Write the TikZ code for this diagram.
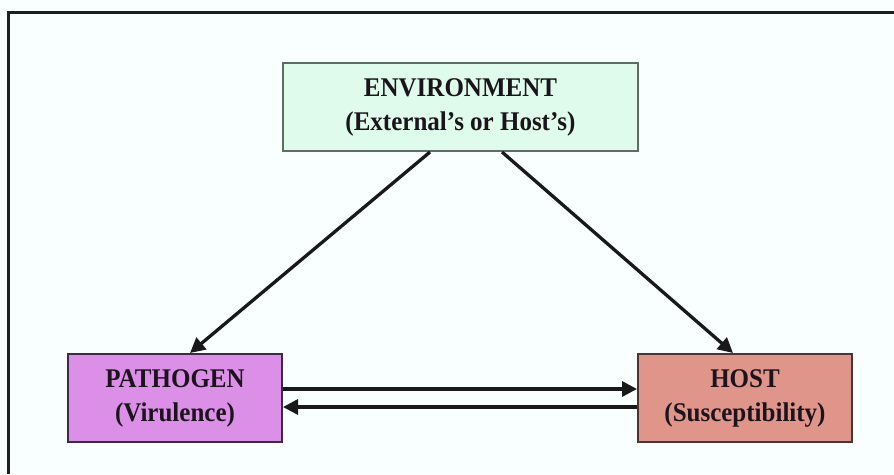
\documentclass[tikz,border=0pt]{standalone}
\usepackage{fontspec}
\setmainfont{Liberation Serif}
\usetikzlibrary{arrows.meta}
\definecolor{bgc}{HTML}{F9FEFE}
\definecolor{envfill}{HTML}{DEFBEB}
\definecolor{envdraw}{HTML}{5C6E63}
\definecolor{patfill}{HTML}{DB8FE6}
\definecolor{patdraw}{HTML}{3C2C42}
\definecolor{hostfill}{HTML}{E0958B}
\definecolor{hostdraw}{HTML}{4A3434}
\definecolor{inktext}{HTML}{1C141C}
\newcommand\twolines[2]{\scalebox{1}[1.08]{\begin{tabular}{@{}c@{}}#1\\#2\end{tabular}}}
\tikzset{
  box/.style={draw, line width=2pt, minimum height=88pt, inner sep=0pt, align=center,
    text=inktext, font=\fontsize{25}{31.5}\selectfont\bfseries},
  conn/.style={line width=3.3pt, -{Triangle[length=15pt,width=15pt]}, color=black!90}
}
\begin{document}
\begin{tikzpicture}[x=1pt,y=-1pt]
\useasboundingbox (0,0) rectangle (894,474);
\fill[bgc] (0,0) rectangle (894,474);
\draw[line width=2.5pt, color=black!88] (8.5,474) -- (8.5,12.5) -- (894,12.5);
\node[box, fill=envfill, draw=envdraw, minimum width=355pt] (E) at (460.5,107)
  {\twolines{ENVIRONMENT}{(External’s or Host’s)}};
\node[box, fill=patfill, draw=patdraw, minimum width=214pt] (P) at (175,398)
  {\twolines{PATHOGEN}{(Virulence)}};
\node[box, fill=hostfill, draw=hostdraw, minimum width=214pt] (H) at (745,398)
  {\twolines{HOST}{(Susceptibility)}};
\draw[conn] ([xshift=-30.5pt]E.south) -- ([xshift=15pt]P.north);
\draw[conn] ([xshift=41.5pt]E.south) -- ([xshift=-12pt]H.north);
\draw[conn] ([yshift=9pt]P.east) -- ([yshift=9pt]H.west);
\draw[conn] ([yshift=-9pt]H.west) -- ([yshift=-9pt]P.east);
\end{tikzpicture}
\end{document}
